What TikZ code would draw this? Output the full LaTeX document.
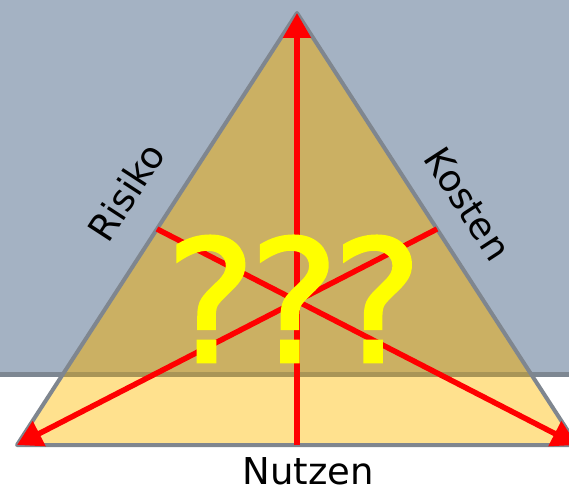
\documentclass[tikz,border=0pt]{standalone}
\usepackage{fontspec}
\setmainfont{DejaVu Sans}
\newfontfamily\qfont[FakeBold=1.6]{DejaVu Sans}
\usetikzlibrary{arrows.meta,calc}
\definecolor{bggray}{HTML}{A4B2C3}
\definecolor{stripegray}{HTML}{7D8792}
\definecolor{edgegray}{HTML}{7F868F}
\definecolor{lightyel}{HTML}{FFE18E}
\definecolor{tanfill}{HTML}{CBB063}
\definecolor{darktan}{HTML}{A99556}
\definecolor{qyellow}{HTML}{FFFF00}
\tikzset{
  redline/.style={draw=red, line width=5.5pt, -{Triangle[length=25pt,width=27pt]}},
  sidelabel/.style={font=\fontsize{37}{42}\selectfont, text=black, inner sep=0pt},
}
\begin{document}
\begin{tikzpicture}[x=1pt,y=-1pt]
\useasboundingbox (0,0) rectangle (569,492);
\begin{scope}
\clip (0,0) rectangle (569,492);
\fill[bggray] (0,0) rectangle (569,372);
\fill[stripegray] (0,372) rectangle (569,377);
\coordinate (A) at (297,13);
\coordinate (B) at (17,445);
\coordinate (C) at (577,445);
\coordinate (mBC) at ($(B)!0.5!(C)$);
\coordinate (mAC) at ($(A)!0.5!(C)$);
\coordinate (mAB) at ($(A)!0.5!(B)$);
\fill[lightyel] (A) -- (B) -- (C) -- cycle;
\begin{scope}
\clip (A) -- (B) -- (C) -- cycle;
\fill[tanfill] (0,0) rectangle (569,372);
\fill[darktan] (0,372) rectangle (569,377);
\end{scope}
\draw[edgegray, line width=4pt, line join=round] (A) -- (B) -- (C) -- cycle;
\draw[redline] (mBC) -- (A);
\draw[redline] (mAC) -- (B);
\draw[redline] (mAB) -- (C);
\node[text=qyellow, font=\qfont\fontsize{170}{180}\selectfont, inner sep=0pt, anchor=base] (q) at (294,362) {?\kern-7pt?\kern-7pt?};
\node[sidelabel, rotate=57] (risiko) at (126,192) {Risiko};
\node[sidelabel, rotate=-57] (kosten) at (468,204) {Kosten};
\node[sidelabel, anchor=base] (nutzen) at (308,484) {Nutzen};
\end{scope}
\end{tikzpicture}
\end{document}
